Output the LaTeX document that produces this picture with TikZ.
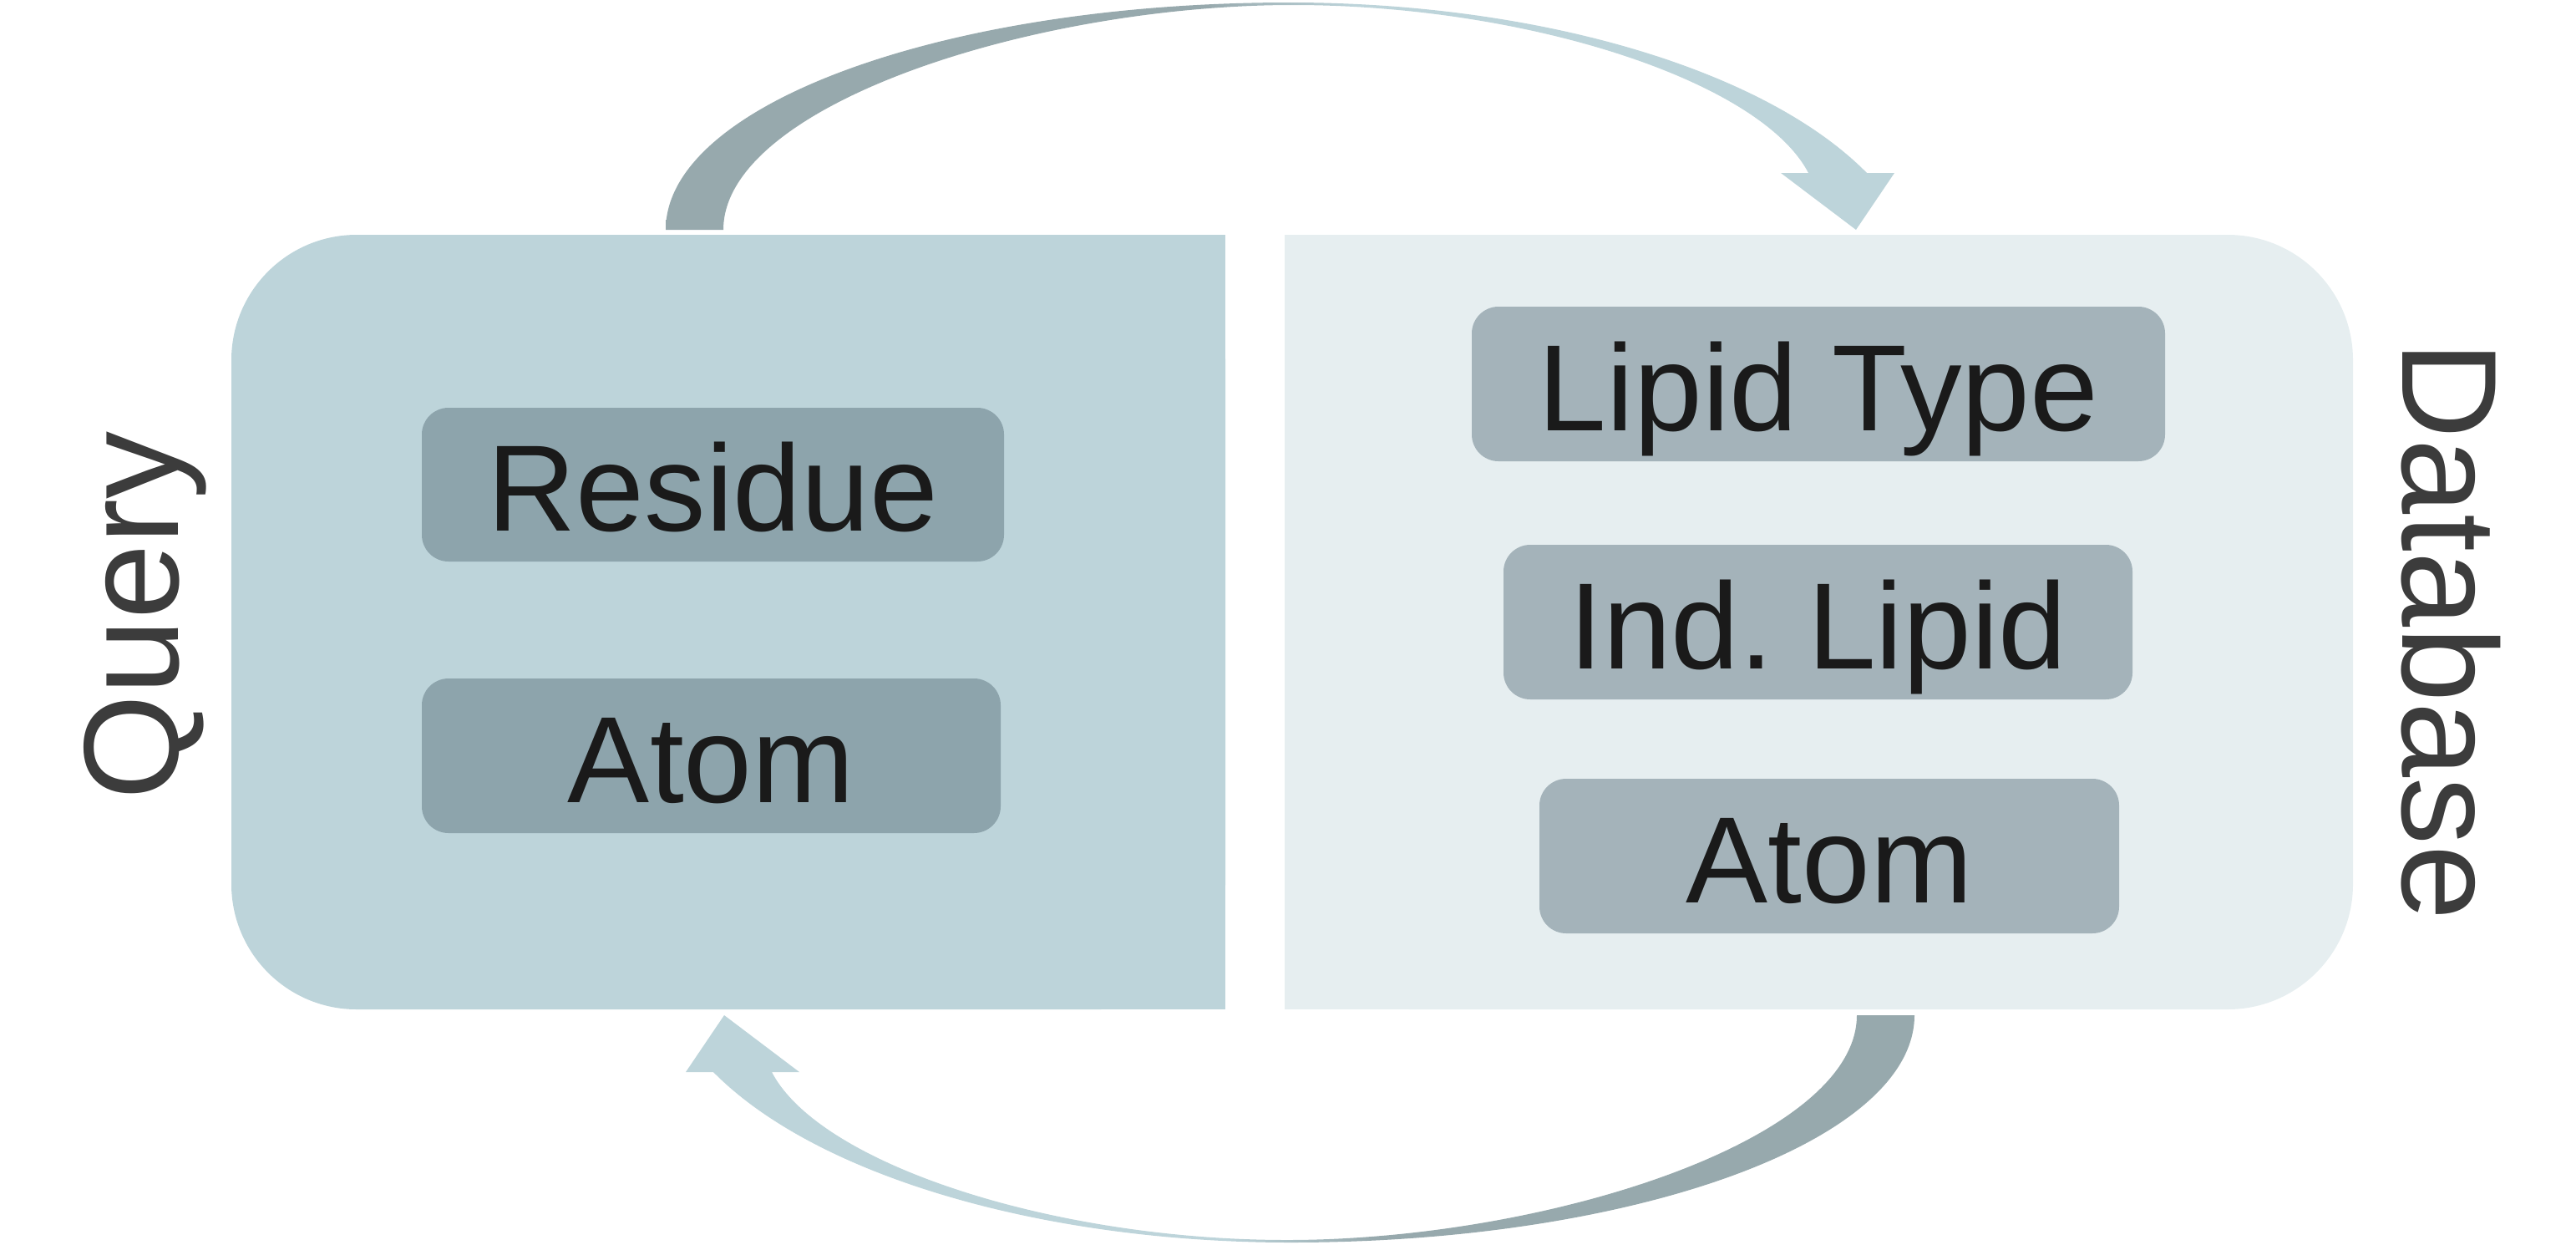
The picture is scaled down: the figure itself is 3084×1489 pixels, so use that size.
\documentclass[tikz,border=0pt]{standalone}
\usepackage{fontspec}
\setmainfont{Liberation Sans}
\definecolor{qpanel}{HTML}{BDD4DA}
\definecolor{dpanel}{HTML}{E6EEF0}
\definecolor{qinner}{HTML}{8DA4AC}
\definecolor{dinner}{HTML}{A4B3BA}
\definecolor{arrdark}{HTML}{97A9AD}
\definecolor{arrlight}{HTML}{BDD4DA}
\definecolor{txtdark}{HTML}{1A1A1A}
\definecolor{lbl}{HTML}{3C3C3C}
\pgfdeclarehorizontalshading{topgrad}{100bp}{color(0bp)=(arrdark); color(47bp)=(arrdark); color(53bp)=(arrlight); color(100bp)=(arrlight)}
\pgfdeclarehorizontalshading{botgrad}{100bp}{color(0bp)=(arrlight); color(47bp)=(arrlight); color(53bp)=(arrdark); color(100bp)=(arrdark)}
\begin{document}
\begin{tikzpicture}[x=1pt,y=-1pt,
  qbox/.style={fill=qinner, rounded corners=32pt, inner sep=0pt, text height=111pt, text depth=0pt, font=\fontsize{147}{150}\selectfont, text=txtdark},
  dbox/.style={qbox, fill=dinner},
  sidelabel/.style={font=\fontsize{162}{170}\selectfont, text=lbl, inner sep=0pt}]
\useasboundingbox (0,0) rectangle (3084,1489);
% panels
\fill[qpanel, rounded corners=150pt] (277,281) rectangle (1467,1208);
\fill[qpanel] (800,281) rectangle (1467,1208);
\fill[dpanel, rounded corners=150pt] (1538,281) rectangle (2817,1208);
\fill[dpanel] (1538,281) rectangle (2200,1208);
% boxes
\node[qbox, minimum width=697pt, minimum height=184pt] (residue) at (853.5,580) {Residue};
\node[qbox, minimum width=693pt, minimum height=185pt] (atomq) at (851.5,904.5) {Atom};
\node[dbox, minimum width=830pt, minimum height=185pt] (lipidtype) at (2177,459.5) {Lipid Type};
\node[dbox, minimum width=753pt, minimum height=185pt] (indlipid) at (2176.5,744.5) {Ind.\ Lipid};
\node[dbox, minimum width=694pt, minimum height=185pt] (atomd) at (2190,1024.5) {Atom};
% side labels
\node[sidelabel, rotate=90, anchor=base] (query) at (213,737) {Query};
\node[sidelabel, rotate=-90, anchor=base] (database) at (2876,755) {Database};
% arrows
\shade[shading=topgrad] (797,275) .. controls (797,125) and (1131,3) .. (1544,3) .. controls (1841.5,3) and (2112.6,82.9) .. (2235,207) -- (2268,207) -- (2222,275) -- (2132,207) -- (2165,207) .. controls (2108,97) and (1828,6) .. (1548,6) .. controls (1240,6) and (866,125) .. (866,275) -- cycle;
\shade[shading=botgrad] (2292,1215) .. controls (2292,1365) and (1958,1487) .. (1545,1487) .. controls (1247.5,1487) and (976.4,1407.1) .. (854,1283) -- (821,1283) -- (867,1215) -- (957,1283) -- (924,1283) .. controls (981,1393) and (1261,1484) .. (1541,1484) .. controls (1849,1484) and (2223,1365) .. (2223,1215) -- cycle;
\end{tikzpicture}
\end{document}
